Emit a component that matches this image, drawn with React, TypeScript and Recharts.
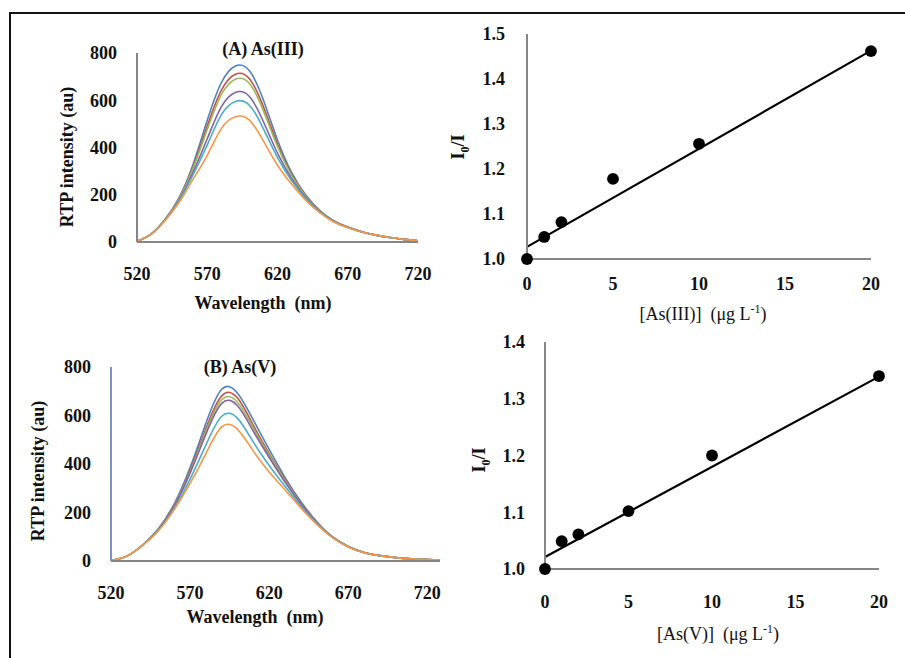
import React from 'react';
import { LineChart, Line, XAxis, YAxis, ComposedChart, Scatter, ZAxis } from 'recharts';

// spectra, As(III) panel
const wavelengthsA = [520, 530, 540, 550, 560, 570, 580, 590, 600, 610, 620, 630, 640, 650, 660, 670, 680, 690, 700, 710, 720];
const asIII_0 = [3, 33, 96, 188, 330, 515, 674, 745, 725, 600, 432, 295, 200, 134, 90, 63, 43, 29, 19, 11, 5];
const asIII_1 = [3, 33, 95, 185, 320, 491, 642, 710, 691, 572, 414, 287, 196, 132, 89, 63, 43, 29, 19, 11, 5];
const asIII_2 = [3, 33, 95, 183, 314, 476, 623, 689, 671, 555, 404, 282, 194, 131, 89, 62, 43, 29, 19, 11, 5];
const asIII_5 = [3, 33, 93, 177, 297, 437, 572, 633, 616, 509, 376, 269, 188, 129, 88, 62, 42, 29, 19, 11, 5];
const asIII_10 = [3, 33, 92, 174, 286, 411, 538, 595, 579, 479, 357, 260, 184, 127, 87, 61, 42, 29, 19, 11, 5];
const asIII_20 = [3, 32, 91, 168, 267, 367, 480, 530, 516, 427, 325, 245, 177, 124, 85, 61, 42, 29, 19, 11, 5];

// spectra, As(V) panel
const wavelengthsB = [520, 530, 540, 550, 560, 570, 580, 590, 600, 610, 620, 630, 640, 650, 660, 670, 680, 690, 700, 710, 720, 728];
const asV_0 = [2, 20, 66, 133, 236, 385, 568, 708, 692, 581, 460, 345, 245, 163, 100, 60, 35, 22, 14, 9, 6, 4];
const asV_1 = [2, 20, 66, 132, 232, 374, 546, 681, 672, 559, 443, 336, 240, 161, 99, 60, 35, 22, 14, 9, 6, 4];
const asV_2 = [2, 20, 66, 131, 230, 368, 536, 665, 655, 548, 436, 332, 238, 160, 99, 60, 35, 22, 14, 9, 6, 4];
const asV_5 = [2, 20, 65, 130, 227, 362, 523, 650, 640, 535, 427, 326, 236, 159, 98, 59, 35, 22, 14, 9, 6, 4];
const asV_10 = [2, 20, 65, 127, 218, 338, 479, 597, 588, 490, 394, 308, 226, 155, 97, 59, 34, 22, 14, 9, 6, 4];
const asV_20 = [2, 20, 64, 125, 212, 320, 443, 553, 543, 453, 367, 293, 219, 151, 96, 58, 34, 22, 14, 9, 6, 4];

const seriesKeys = ['c0', 'c1', 'c2', 'c5', 'c10', 'c20'];
const seriesColors = ['#4F81BD', '#C0504D', '#9BBB59', '#8064A2', '#4BACC6', '#F79646'];
const wavelengthTicks = [520, 570, 620, 670, 720];
const intensityTicks = [0, 200, 400, 600, 800];

// Stern-Volmer calibration points
const concAsIII = [0, 1, 2, 5, 10, 20];
const ratioAsIII = [1.0, 1.049, 1.082, 1.178, 1.256, 1.462];
const fitAsIII = [1.027, 1.463];
const concAsV = [0, 1, 2, 5, 10, 20];
const ratioAsV = [1.0, 1.049, 1.061, 1.102, 1.2, 1.34];
const fitAsV = [1.021, 1.339];
const fitConc = [0, 20];
const concTicks = [0, 5, 10, 15, 20];
const ratioTicksA = [1.0, 1.1, 1.2, 1.3, 1.4, 1.5];
const ratioTicksB = [1.0, 1.1, 1.2, 1.3, 1.4];

const rowsA = wavelengthsA.map((nm, i) => ({
  nm, c0: asIII_0[i], c1: asIII_1[i], c2: asIII_2[i], c5: asIII_5[i], c10: asIII_10[i], c20: asIII_20[i],
}));
const rowsB = wavelengthsB.map((nm, i) => ({
  nm, c0: asV_0[i], c1: asV_1[i], c2: asV_2[i], c5: asV_5[i], c10: asV_10[i], c20: asV_20[i],
}));
const pointsA = concAsIII.map((x, i) => ({ x, y: ratioAsIII[i] }));
const pointsB = concAsV.map((x, i) => ({ x, y: ratioAsV[i] }));
const lineA = fitConc.map((x, i) => ({ x, y: fitAsIII[i] }));
const lineB = fitConc.map((x, i) => ({ x, y: fitAsV[i] }));

const serif = '"Liberation Serif", "Times New Roman", serif';
const tickFont = { fontFamily: serif, fontSize: 18, fontWeight: 700, fill: '#111' };
const axisGray = { stroke: '#868686', strokeWidth: 2 };

function Txt({ x, y, rotate, bold = true, size = 18, children }: any) {
  return (
    <div
      style={{
        position: 'absolute', left: x, top: y, whiteSpace: 'pre',
        transform: `translate(-50%, -50%)${rotate ? ' rotate(-90deg)' : ''}`,
        fontFamily: serif, fontSize: size, fontWeight: bold ? 700 : 400, color: '#111', lineHeight: 1,
      }}
    >
      {children}
    </div>
  );
}

function Spectrum({ left, top, width, height, margin, yWidth, xHeight, domain, rows, yAxisLine }: any) {
  return (
    <div style={{ position: 'absolute', left, top }}>
      <LineChart width={width} height={height} data={rows} margin={margin}>
        <XAxis type="number" dataKey="nm" domain={domain} ticks={wavelengthTicks} height={xHeight}
          axisLine={axisGray} tickLine={false} tickMargin={19} tick={tickFont} interval={0} />
        <YAxis type="number" domain={[0, 800]} ticks={intensityTicks} width={yWidth}
          axisLine={yAxisLine} tickLine={false} tickMargin={14} tick={tickFont} interval={0} />
        {seriesKeys.map((k, i) => (
          <Line key={k} dataKey={k} type="natural" stroke={seriesColors[i]} strokeWidth={1.6}
            dot={false} isAnimationActive={false} />
        ))}
      </LineChart>
    </div>
  );
}

function Calibration({ left, top, width, height, margin, yWidth, domain, ticks, points, fit, xMargin, yMargin }: any) {
  return (
    <div style={{ position: 'absolute', left, top }}>
      <ComposedChart width={width} height={height} margin={margin}>
        <XAxis type="number" dataKey="x" domain={[0, 20]} ticks={concTicks} height={61}
          axisLine={axisGray} tickLine={false} tickMargin={xMargin} tick={tickFont} interval={0} />
        <YAxis type="number" dataKey="y" domain={domain} ticks={ticks} width={yWidth}
          axisLine={axisGray} tickLine={false} tickMargin={yMargin} tick={tickFont} interval={0}
          tickFormatter={(v: number) => v.toFixed(1)} />
        <ZAxis range={[110, 110]} />
        <Line data={fit} dataKey="y" type="linear" stroke="#000" strokeWidth={2.2} dot={false}
          isAnimationActive={false} />
        <Scatter data={points} fill="#000" isAnimationActive={false} />
      </ComposedChart>
    </div>
  );
}

export default function App() {
  return (
    <div style={{ position: 'fixed', left: 0, top: 0, width: 905, height: 658, overflow: 'hidden', background: '#fff' }}>
      <div style={{ position: 'absolute', left: 9, top: 12, width: 905, height: 658, borderTop: '2px solid #111', borderLeft: '2px solid #111' }} />

      <Spectrum left={40} top={40} width={400} height={260} margin={{ top: 13, right: 22, left: 0, bottom: 0 }}
        yWidth={97} xHeight={58} domain={[520, 720]} rows={rowsA} yAxisLine={axisGray} />
      <Txt x={263} y={49}>(A) As(III)</Txt>
      <Txt x={67} y={157} rotate>RTP intensity (au)</Txt>
      <Txt x={263} y={303}>Wavelength  (nm)</Txt>

      <Spectrum left={10} top={350} width={440} height={270} margin={{ top: 17, right: 10, left: 0, bottom: 0 }}
        yWidth={101} xHeight={59} domain={[520, 728]} rows={rowsB} yAxisLine={{ stroke: '#7f93bb', strokeWidth: 2 }} />
      <Txt x={240} y={367}>(B) As(V)</Txt>
      <Txt x={38} y={471} rotate>RTP intensity (au)</Txt>
      <Txt x={255} y={617}>Wavelength  (nm)</Txt>

      <Calibration left={440} top={20} width={445} height={300} margin={{ top: 14, right: 14, left: 0, bottom: 0 }}
        yWidth={87} domain={[1.0, 1.5]} ticks={ratioTicksA} points={pointsA} fit={lineA} xMargin={12} yMargin={16} />
      <Txt x={460} y={147} rotate>I<sub style={{ fontSize: 12 }}>0</sub>/I</Txt>
      <Txt x={703} y={313} bold={false}>[As(III)]  (μg L<sup style={{ fontSize: 12 }}>-1</sup>)</Txt>

      <Calibration left={450} top={325} width={445} height={305} margin={{ top: 17, right: 16, left: 0, bottom: 0 }}
        yWidth={95} domain={[1.0, 1.4]} ticks={ratioTicksB} points={pointsB} fit={lineB} xMargin={20} yMargin={14} />
      <Txt x={481} y={460} rotate>I<sub style={{ fontSize: 12 }}>0</sub>/I</Txt>
      <Txt x={718} y={633} bold={false}>[As(V)]  (μg L<sup style={{ fontSize: 12 }}>-1</sup>)</Txt>
    </div>
  );
}
